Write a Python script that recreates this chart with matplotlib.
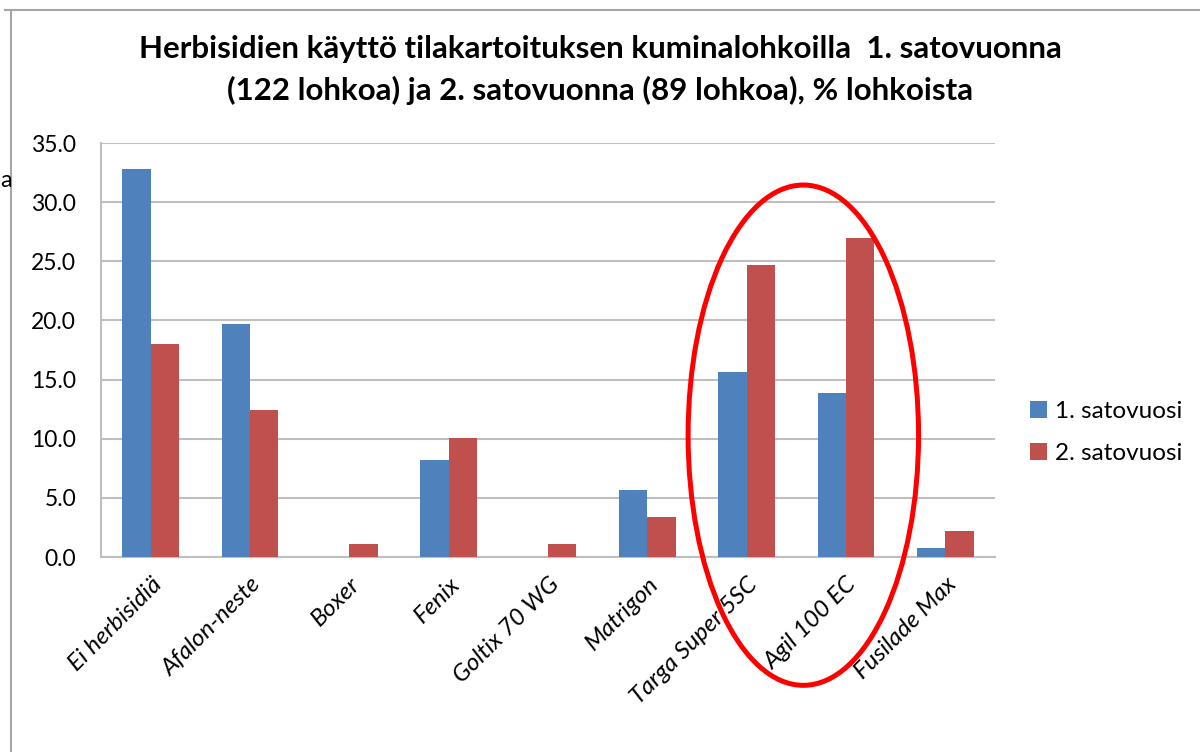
import matplotlib
matplotlib.use("Agg")
import matplotlib.pyplot as plt
from matplotlib.patches import Ellipse
from matplotlib.lines import Line2D
import numpy as np

# tuotteet ja osuudet (% lohkoista)
tuotteet = ["Ei herbisidiä", "Afalon-neste", "Boxer", "Fenix", "Goltix 70 WG",
            "Matrigon", "Targa Super 5SC", "Agil 100 EC", "Fusilade Max"]
satovuosi1 = [32.8, 19.7, 0.0, 8.2, 0.0, 5.7, 15.6, 13.9, 0.8]
satovuosi2 = [18.0, 12.4, 1.1, 10.1, 1.1, 3.4, 24.7, 27.0, 2.2]
sarjat = ["1. satovuosi", "2. satovuosi"]
yticks = [0, 5, 10, 15, 20, 25, 30, 35]

otsikko = ("Herbisidien käyttö tilakartoituksen kuminalohkoilla  1. satovuonna\n"
           "(122 lohkoa) ja 2. satovuonna (89 lohkoa), % lohkoista")

plt.rcParams["font.family"] = ["Lato", "DejaVu Sans"]

fig = plt.figure(figsize=(12, 7.52), dpi=100)
ax = fig.add_axes([0.0842, 0.2593, 0.7450, 0.5505])

x = np.arange(len(tuotteet))
w = 0.286
ax.bar(x - w / 2, satovuosi1, w, color="#4F81BD", label=sarjat[0], zorder=3)
ax.bar(x + w / 2, satovuosi2, w, color="#C0504D", label=sarjat[1], zorder=3)

ax.set_xlim(-0.5, len(tuotteet) - 0.5)
ax.set_ylim(0, 35)
ax.set_yticks(yticks)
ax.set_yticklabels(["%.1f" % v for v in yticks], fontsize=16.5)
ax.set_xticks(x)
ax.set_xticklabels(tuotteet, rotation=45, ha="right", rotation_mode="anchor",
                   fontsize=17.5, style="italic")
ax.tick_params(axis="y", length=0, pad=18)
ax.tick_params(axis="x", length=0, pad=12)

ax.grid(axis="y", color="#BFBFBF", linewidth=1.5, zorder=0)
for s in ["top", "right"]:
    ax.spines[s].set_visible(False)
for s in ["left", "bottom"]:
    ax.spines[s].set_color("#BFBFBF")
    ax.spines[s].set_linewidth(1.5)

fig.text(0.5, 0.907, otsikko, ha="center", va="center", fontsize=22.5,
         fontweight="bold", linespacing=1.5)

fig.legend(loc="center left", bbox_to_anchor=(0.84, 0.425), frameon=False,
           fontsize=17.5, handlelength=0.7, handleheight=0.7, handletextpad=0.35,
           labelspacing=0.85)

# punainen rengas Targa Super 5SC ja Agil 100 EC ympärillä
ax.add_patch(Ellipse((6.57, 10.3), 2.32, 42.3, fill=False, edgecolor="red",
                     linewidth=3.6, clip_on=False, zorder=5))

# kuvan reunaviivat
fig.add_artist(Line2D([0.009, 0.009], [0.0, 0.987], color="#A6A6A6", linewidth=1.5))
fig.add_artist(Line2D([0.004, 1.0], [0.987, 0.987], color="#A6A6A6", linewidth=1.5))
fig.text(0.0, 0.76, "a", fontsize=17, ha="left", va="center")

fig.savefig("out.png", dpi=100)
